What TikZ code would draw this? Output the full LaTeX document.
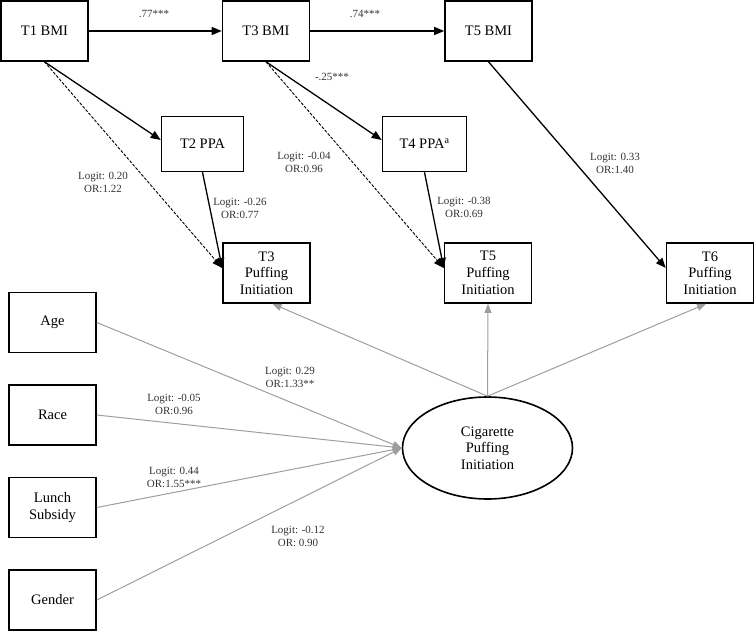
\documentclass[tikz,border=0pt]{standalone}
\usepackage{fontspec}
\setmainfont{Liberation Serif}
\usetikzlibrary{arrows.meta,shapes.geometric}
\begin{document}
\begin{tikzpicture}[x=1pt,y=-1pt,
 box/.style={draw,line width=1.6pt,minimum width=87pt,minimum height=60pt,inner sep=0pt,font=\fontsize{14.5}{16.7}\selectfont,align=center},
 lab/.style={font=\fontsize{11}{13}\selectfont,align=center,text=black!80,inner sep=0pt},
 arr/.style={line width=1.3pt,-{Triangle[length=10pt,width=8pt]}},
 darr/.style={line width=0.9pt,dash pattern=on 3pt off 1.5pt,-{Triangle[length=10pt,width=8pt]}},
 garr/.style={draw=black!38,line width=1pt,-{Triangle[length=9pt,width=7pt,fill=black!38]}}
]
\useasboundingbox (0,0) rectangle (755,631);
% boxes
\node[box] (T1BMI) at (44.5,31) {T1 BMI};
\node[box] (T3BMI) at (266,31) {T3 BMI};
\node[box] (T5BMI) at (488.5,31) {T5 BMI};
\node[box,minimum width=82pt,minimum height=55pt] (T2PPA) at (202.5,144) {T2 PPA};
\node[box,minimum width=84pt,minimum height=55pt] (T4PPA) at (424.5,144) {T4 PPA\textsuperscript{a}};
\node[box] (T3P) at (266.5,273) {T3\\Puffing\\Initiation};
\node[box] (T5P) at (488,273) {T5\\Puffing\\Initiation};
\node[box] (T6P) at (710,273) {T6\\Puffing\\Initiation};
\node[box] (Age) at (52.5,322.5) {Age};
\node[box] (Race) at (52.5,415) {Race};
\node[box] (Lunch) at (52.5,507.5) {Lunch\\Subsidy};
\node[box] (Gender) at (52.5,600) {Gender};
\node[draw,ellipse,line width=1.6pt,minimum width=170pt,minimum height=102pt,inner sep=0pt,
      font=\fontsize{14.5}{16.7}\selectfont,align=center] (E) at (487.5,448) {Cigarette\\Puffing\\Initiation};
% black arrows
\draw[arr] (T1BMI) -- (T3BMI);
\draw[arr] (T3BMI) -- (T5BMI);
\draw[arr] (T1BMI.south) -- ([yshift=4pt]T2PPA.west);
\draw[darr] (T1BMI.south) -- ([yshift=5pt]T3P.west);
\draw[arr] (T2PPA.south) -- ([yshift=5pt]T3P.west);
\draw[arr] (T3BMI.south) -- ([yshift=4pt]T4PPA.west);
\draw[darr] (T3BMI.south) -- ([yshift=5pt]T5P.west);
\draw[arr] (T4PPA.south) -- ([yshift=5pt]T5P.west);
\draw[arr] (T5BMI.south) -- ([yshift=5pt]T6P.west);
% gray arrows
\draw[garr] (E.north) -- ([xshift=6pt]T3P.south);
\draw[garr] (E.north) -- (T5P.south);
\draw[garr] (E.north) -- ([xshift=-4pt]T6P.south);
\draw[garr] (Age.east) -- (E.west);
\draw[garr] (Race.east) -- (E.west);
\draw[garr] (Lunch.east) -- (E.west);
\draw[garr] (Gender.east) -- (E.west);
% labels
\node[lab] (l1) at (154,14) {.77***};
\node[lab] (l2) at (365,14) {.74***};
\node[lab] (l3) at (332,77) {-.25***};
\node[lab] (l4) at (103,182) {Logit: 0.20\\OR:1.22};
\node[lab] (l5) at (240,208) {Logit: -0.26\\OR:0.77};
\node[lab] (l6) at (304,162) {Logit: -0.04\\OR:0.96};
\node[lab] (l7) at (464,207) {Logit: -0.38\\OR:0.69};
\node[lab] (l8) at (615,163) {Logit: 0.33\\OR:1.40};
\node[lab] (l9) at (290,377) {Logit: 0.29\\OR:1.33**};
\node[lab] (l10) at (174,404) {Logit: -0.05\\OR:0.96};
\node[lab] (l11) at (174,477) {Logit: 0.44\\OR:1.55***};
\node[lab] (l12) at (298,536) {Logit: -0.12\\OR: 0.90};
\end{tikzpicture}
\end{document}
